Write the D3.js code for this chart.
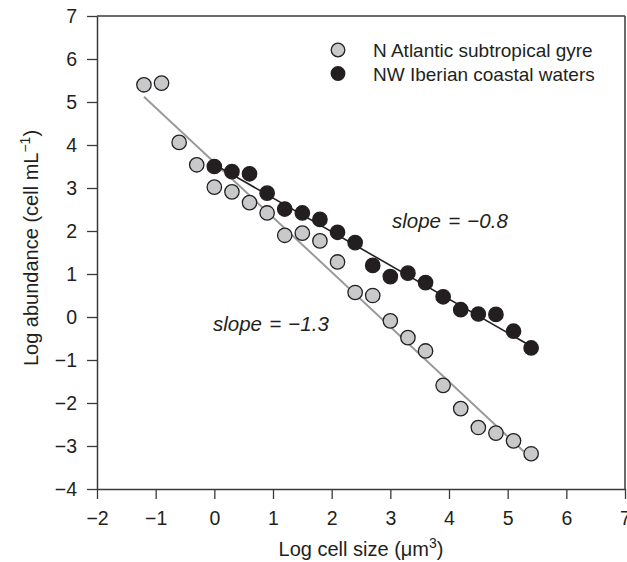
<!DOCTYPE html>
<html>
<head>
<meta charset="utf-8">
<script src="https://cdn.jsdelivr.net/npm/d3@7"></script>
<style>
  body { margin: 0; background: #fff; }
  svg { display: block; font-family: "Liberation Sans", Arial, Helvetica, sans-serif; }
</style>
</head>
<body>
<svg id="chart" width="627" height="562"></svg>
<script>
// ---- data ----
const seriesNames = ["N Atlantic subtropical gyre", "NW Iberian coastal waters"];
const gyreX = [-1.2,-0.9,-0.6,-0.3,0,0.3,0.6,0.9,1.2,1.5,1.8,2.1,2.4,2.7,3.0,3.3,3.6,3.9,4.2,4.5,4.8,5.1,5.4];
const gyreY = [5.40,5.44,4.06,3.54,3.02,2.91,2.66,2.42,1.90,1.95,1.77,1.28,0.57,0.50,-0.09,-0.48,-0.79,-1.59,-2.13,-2.57,-2.70,-2.88,-3.18];
const iberX = [0,0.3,0.6,0.9,1.2,1.5,1.8,2.1,2.4,2.7,3.0,3.3,3.6,3.9,4.2,4.5,4.8,5.1,5.4];
const iberY = [3.50,3.38,3.33,2.88,2.51,2.42,2.27,1.97,1.73,1.20,0.94,1.02,0.80,0.47,0.17,0.07,0.06,-0.33,-0.72];
const gyreFitX = [-1.2, 5.27];
const gyreFitY = [5.12, -3.12];
const iberFitX = [0, 5.4];
const iberFitY = [3.55, -0.68];
const xTicks = [-2,-1,0,1,2,3,4,5,6,7];
const yTicks = [-4,-3,-2,-1,0,1,2,3,4,5,6,7];
const slopeLabels = ["slope = \u22120.8", "slope = \u22121.3"];

// ---- layout ----
const svg = d3.select("#chart");
const L = 97, R = 625, T = 16, B = 489;
const x = d3.scaleLinear().domain([-2, 7]).range([L, R]);
const y = d3.scaleLinear().domain([-4, 7]).range([B, T]);
const axisColor = "#3a3a3a";
const textColor = "#231f20";
const fmt = d => d < 0 ? "\u2212" + Math.abs(d) : String(d);

// frame top/right
svg.append("line").attr("x1", x(-2)).attr("x2", x(7)).attr("y1", y(7)).attr("y2", y(7))
  .attr("stroke", axisColor).attr("stroke-width", 1.5);
svg.append("line").attr("x1", x(7)).attr("x2", x(7)).attr("y1", y(7)).attr("y2", y(-4))
  .attr("stroke", axisColor).attr("stroke-width", 1.5);

const gx = svg.append("g").attr("transform", `translate(0,${B})`)
  .call(d3.axisBottom(x).tickValues(xTicks).tickFormat(fmt).tickSize(10).tickSizeOuter(0).tickPadding(12));
const gy = svg.append("g").attr("transform", `translate(${L},0)`)
  .call(d3.axisLeft(y).tickValues(yTicks).tickFormat(fmt).tickSize(10).tickSizeOuter(0).tickPadding(10));
[gx, gy].forEach(g => {
  g.select(".domain").attr("stroke", axisColor).attr("stroke-width", 1.5);
  g.selectAll(".tick line").attr("stroke", axisColor).attr("stroke-width", 1.3);
  g.selectAll(".tick text").attr("fill", textColor).style("font-size", "19.5px")
    .style("font-family", '"Liberation Sans", Arial, sans-serif');
});

// fit lines
const line = d3.line().x(d => x(d[0])).y(d => y(d[1]));
svg.append("path").datum(d3.zip(gyreFitX, gyreFitY)).attr("d", line)
  .attr("fill", "none").attr("stroke", "#9a9a9a").attr("stroke-width", 2);
svg.append("path").datum(d3.zip(iberFitX, iberFitY)).attr("d", line)
  .attr("fill", "none").attr("stroke", "#231f20").attr("stroke-width", 1.6);

// points
const r = 7.2;
svg.append("g").selectAll("circle").data(d3.zip(gyreX, gyreY)).join("circle")
  .attr("cx", d => x(d[0])).attr("cy", d => y(d[1])).attr("r", r)
  .attr("fill", "#c8c9ca").attr("stroke", "#231f20").attr("stroke-width", 1.3);
svg.append("g").selectAll("circle").data(d3.zip(iberX, iberY)).join("circle")
  .attr("cx", d => x(d[0])).attr("cy", d => y(d[1])).attr("r", r)
  .attr("fill", "#231f20").attr("stroke", "#231f20").attr("stroke-width", 1.3);

// legend
const leg = svg.append("g");
const legFill = ["#c8c9ca", "#231f20"];
seriesNames.forEach((name, i) => {
  const cy = 50 + i * 23.5;
  leg.append("circle").attr("cx", 338).attr("cy", cy).attr("r", 6.8)
    .attr("fill", legFill[i]).attr("stroke", "#231f20").attr("stroke-width", 1.3);
  leg.append("text").attr("x", 373).attr("y", cy + 7.3).text(name)
    .attr("fill", textColor).style("font-size", "19px");
});

// slope labels
svg.append("text").attr("x", 392).attr("y", 228).text(slopeLabels[0])
  .attr("fill", textColor).style("font-size", "20.5px").style("font-style", "italic")
  .style("word-spacing", "1.5px");
svg.append("text").attr("x", 213).attr("y", 331).text(slopeLabels[1])
  .attr("fill", textColor).style("font-size", "20.5px").style("font-style", "italic")
  .style("word-spacing", "1.5px");

// axis titles
const xt = svg.append("text").attr("x", (L + R) / 2).attr("y", 556).attr("text-anchor", "middle")
  .attr("fill", textColor).style("font-size", "20px");
xt.append("tspan").text("Log cell size (\u03bcm");
xt.append("tspan").text("3").attr("dy", -8).style("font-size", "14px");
xt.append("tspan").text(")").attr("dy", 8);

const yt = svg.append("text").attr("transform", `translate(38,248) rotate(-90)`)
  .attr("text-anchor", "middle").attr("fill", textColor).style("font-size", "20px");
yt.append("tspan").text("Log abundance (cell mL");
yt.append("tspan").text("\u22121").attr("dy", -8).style("font-size", "14px");
yt.append("tspan").text(")").attr("dy", 8);
</script>
</body>
</html>
